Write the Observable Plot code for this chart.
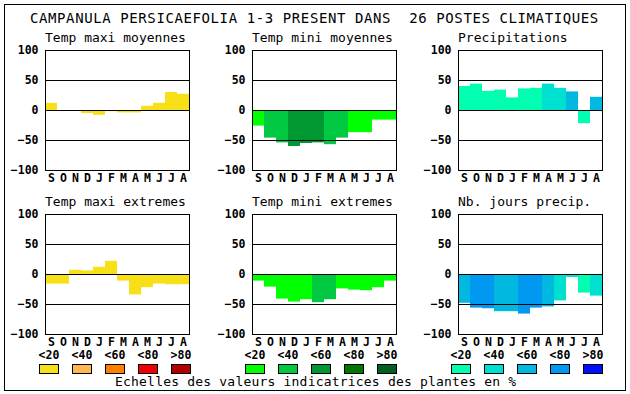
<!DOCTYPE html>
<html><head><meta charset="utf-8">
<script src="https://cdn.jsdelivr.net/npm/d3@7"></script>
<script src="https://cdn.jsdelivr.net/npm/@observablehq/plot@0.6"></script>
<style>
body{margin:0;background:#fff;}
#root{position:relative;width:630px;height:394px;overflow:hidden;font-family:"DejaVu Sans Mono",monospace;background:#fff;}
#border{position:absolute;left:4px;top:4px;width:622px;height:387px;border:1px solid #000;box-sizing:border-box;}
.t{position:absolute;white-space:pre;color:#000;line-height:1;}
.panel{position:absolute;}
.sw{position:absolute;width:20px;height:10px;border:1px solid #000;box-sizing:border-box;}
</style></head><body><div id="root"><div id="border"></div></div>
<script>
// ---- data ----
const mainTitle = "CAMPANULA PERSICAEFOLIA 1-3 PRESENT DANS  26 POSTES CLIMATIQUES";
const caption = "Echelles des valeurs indicatrices des plantes en %";
const months = ["S","O","N","D","J","F","M","A","M","J","J","A"];
const yTicks = [-100, -50, 0, 50, 100];
const gridLines = [-50, 0, 50];
const legendLabels = ["<20","<40","<60","<80",">80"];

const tmaxPal = ["#f8e018","#ffb850","#ff8000","#f00000","#b00000"];
const tminPal = ["#00ff00","#00c840","#009830","#007800","#006020"];
const precPal = ["#00ffb0","#00e0d0","#00b8e0","#0098f0","#0010ff"];

const titles = ["Temp maxi moyennes","Temp mini moyennes","Precipitations",
                "Temp maxi extremes","Temp mini extremes","Nb. jours precip."];

const tmaxMoy      = [12, 0, 0, -5, -8, -2, -4, -4, 7, 12, 30, 27];
const tmaxMoyClass = [0,0,0,0,0,0,0,0,0,0,0,0];
const tminMoy      = [-26, -46, -54, -60, -55, -54, -57, -46, -37, -37, -16, -16];
const tminMoyClass = [0,1,1,2,2,2,1,1,0,0,0,0];
const precip       = [40, 44, 32, 34, 21, 36, 37, 44, 37, 31, -22, 22];
const precipClass  = [0,0,0,0,0,0,0,1,1,2,0,2];
const tmaxExt      = [-16, -16, 7, 6, 12, 22, -11, -34, -22, -16, -17, -17];
const tmaxExtClass = [0,0,0,0,0,0,0,0,0,0,0,0];
const tminExt      = [-11, -21, -41, -46, -42, -47, -42, -24, -26, -27, -22, -11];
const tminExtClass = [0,0,0,0,0,1,1,0,0,0,0,0];
const nbJours      = [-48, -56, -57, -62, -62, -66, -56, -54, -44, -5, -31, -36];
const nbJoursClass = [2,3,3,2,2,3,3,2,1,1,0,1];

// ---- layout ----
const root = document.getElementById("root");
const colLeft = [45, 252, 458];
const rowTop = [50, 214];
const PW = 144, PH = 120, ML = 45, MT = 10, MR = 6, MB = 22;

function text(str, x, y, size, opts = {}) {
  const d = document.createElement("div");
  d.className = "t";
  d.textContent = str;
  d.style.left = x + "px";
  d.style.top = y + "px";
  d.style.fontSize = size + "px";
  if (opts.bold) d.style.fontWeight = "bold";
  if (opts.ls) d.style.letterSpacing = opts.ls + "px";
  if (opts.center) { d.style.transform = "translateX(-50%)"; }
  root.appendChild(d);
  return d;
}

function panel(vals, cls, pal, col, row, title) {
  const data = vals.map((v, i) => ({i, v, c: cls[i]}));
  const chart = Plot.plot({
    width: ML + PW + MR, height: MT + PH + MB,
    marginLeft: ML, marginRight: MR, marginTop: MT, marginBottom: MB,
    style: {fontFamily: "DejaVu Sans Mono", fontWeight: "bold", fontSize: "11.5px", background: "transparent", color: "#000"},
    x: {type: "band", domain: d3.range(12), padding: 0, tickFormat: i => months[i], tickSize: 0, tickPadding: 3, label: null},
    y: {domain: [-100, 100], ticks: yTicks, tickSize: 0, tickPadding: 7, label: null},
    color: {type: "ordinal", domain: [0,1,2,3,4], range: pal},
    marks: [
      Plot.barY(data, {x: "i", y: "v", fill: "c"}),
      Plot.ruleY(gridLines, {stroke: "#000"}),
      Plot.frame({stroke: "#000"})
    ]
  });
  chart.classList.add("panel");
  chart.style.left = (colLeft[col] - ML) + "px";
  chart.style.top = (rowTop[row] - MT) + "px";
  chart.style.maxWidth = "none";
  root.appendChild(chart);
  text(title, colLeft[col], rowTop[row] - 19, 13);
}

text(mainTitle, 30, 11, 14, {ls: 0.6});

panel(tmaxMoy, tmaxMoyClass, tmaxPal, 0, 0, titles[0]);
panel(tminMoy, tminMoyClass, tminPal, 1, 0, titles[1]);
panel(precip, precipClass, precPal, 2, 0, titles[2]);
panel(tmaxExt, tmaxExtClass, tmaxPal, 0, 1, titles[3]);
panel(tminExt, tminExtClass, tminPal, 1, 1, titles[4]);
panel(nbJours, nbJoursClass, precPal, 2, 1, titles[5]);

// legend
const groupLeft = [39, 245, 451];
const pals = [tmaxPal, tminPal, precPal];
pals.forEach((pal, g) => {
  pal.forEach((c, k) => {
    const x = groupLeft[g] + k * 33;
    const s = document.createElement("div");
    s.className = "sw";
    s.style.left = x + "px";
    s.style.top = "364px";
    s.style.background = c;
    root.appendChild(s);
    text(legendLabels[k], x + 10, 350, 11.5, {bold: true, center: true});
  });
});
text(caption, 115, 375, 13, {ls: 0.2});
</script>
</body></html>
